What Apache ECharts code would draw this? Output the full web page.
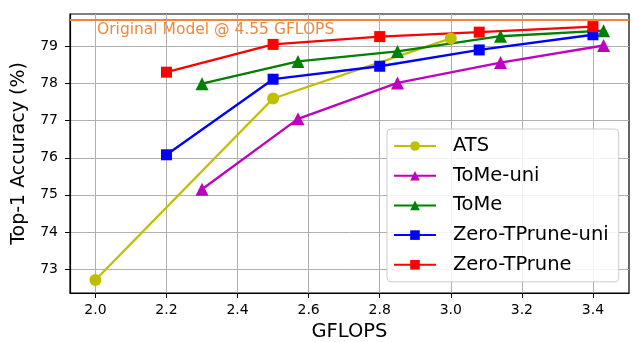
<!DOCTYPE html>
<html>
<head>
<meta charset="utf-8">
<script src="https://cdn.jsdelivr.net/npm/echarts@6/dist/echarts.min.js"></script>
<style>
  html, body { margin: 0; padding: 0; background: #fff; }
  #chart { width: 633px; height: 342px; }
</style>
</head>
<body>
<div id="chart"></div>
<script>
// 数据
const xTicks = [2.0, 2.2, 2.4, 2.6, 2.8, 3.0, 3.2, 3.4]
const yTicks = [73, 74, 75, 76, 77, 78, 79]

const atsX = [2.0, 2.5, 3.0]
const atsY = [72.7, 77.6, 79.22]

const tomeUniX = [2.3, 2.57, 2.85, 3.14, 3.43]
const tomeUniY = [75.15, 77.05, 78.02, 78.57, 79.03]

const tomeX = [2.3, 2.57, 2.85, 3.14, 3.43]
const tomeY = [78.0, 78.6, 78.87, 79.28, 79.43]

const zeroUniX = [2.2, 2.5, 2.8, 3.08, 3.4]
const zeroUniY = [76.08, 78.12, 78.47, 78.91, 79.32]

const zeroX = [2.2, 2.5, 2.8, 3.08, 3.4]
const zeroY = [78.31, 79.06, 79.27, 79.39, 79.54]

const originalAcc = 79.72
const originalLabel = 'Original Model @ 4.55 GFLOPS'

const font = 'DejaVu Sans'
const toPairs = (xs, ys) => xs.map((x, i) => [x, ys[i]])

const makeSeries = (name, xs, ys, color, symbol, size) => ({
  name,
  type: 'line',
  data: toPairs(xs, ys),
  symbol,
  symbolSize: size,
  showAllSymbol: true,
  lineStyle: { color, width: 2.3 },
  itemStyle: { color },
  emphasis: { disabled: true },
  animation: false
})

const chart = echarts.init(document.getElementById('chart'), null, { renderer: 'canvas' })

const option = {
  animation: false,
  grid: {
    left: 70, right: 4, top: 14, bottom: 49,
    outerBoundsMode: 'none',
    show: true, borderColor: '#000', borderWidth: 1.2, backgroundColor: 'transparent'
  },
  xAxis: {
    type: 'value',
    min: 1.9285, max: 3.5015,
    name: 'GFLOPS', nameLocation: 'middle', nameGap: 29,
    nameTextStyle: { fontFamily: font, fontSize: 19.5, color: '#000' },
    axisLine: { show: true, onZero: false, lineStyle: { color: '#000', width: 1.2 } },
    axisTick: { show: true, customValues: xTicks, length: 5, lineStyle: { color: '#000' } },
    axisLabel: {
      customValues: xTicks, fontFamily: font, fontSize: 14, color: '#000', margin: 10,
      formatter: v => v.toFixed(1)
    },
    splitLine: { show: true, lineStyle: { color: '#b0b0b0', width: 1 } }
  },
  yAxis: {
    type: 'value',
    min: 72.35, max: 79.88,
    name: 'Top-1 Accuracy (%)', nameLocation: 'middle', nameGap: 41,
    nameTextStyle: { fontFamily: font, fontSize: 19, color: '#000' },
    axisLine: { show: true, onZero: false, lineStyle: { color: '#000', width: 1.2 } },
    axisTick: { show: true, customValues: yTicks, length: 5, lineStyle: { color: '#000' } },
    axisLabel: { customValues: yTicks, fontFamily: font, fontSize: 14, color: '#000', margin: 12 },
    splitLine: { show: true, lineStyle: { color: '#b0b0b0', width: 1 } }
  },
  legend: {
    orient: 'vertical',
    left: 387, top: 129,
    padding: [6, 10, 6, 6],
    itemWidth: 42, itemHeight: 12, itemGap: 7.7,
    backgroundColor: 'rgba(255,255,255,0.85)',
    borderColor: '#cccccc', borderWidth: 1, borderRadius: 4,
    textStyle: { fontFamily: font, fontSize: 19.5, color: '#000', lineHeight: 22, padding: [0, 0, 0, 12] },
    data: ['ATS', 'ToMe-uni', 'ToMe', 'Zero-TPrune-uni', 'Zero-TPrune']
  },
  graphic: [{
    type: 'text',
    left: 97, top: 22,
    style: { text: originalLabel, fontFamily: font, fontSize: 15.5, fill: '#f0883c' }
  }],
  series: [
    makeSeries('ATS', atsX, atsY, '#bfbf00', 'circle', 12),
    makeSeries('ToMe-uni', tomeUniX, tomeUniY, '#bf00bf', 'triangle', 13),
    makeSeries('ToMe', tomeX, tomeY, '#008000', 'triangle', 13),
    makeSeries('Zero-TPrune-uni', zeroUniX, zeroUniY, '#0000ff', 'rect', 11),
    Object.assign(makeSeries('Zero-TPrune', zeroX, zeroY, '#ff0000', 'rect', 11), {
      markLine: {
        silent: true, symbol: 'none', animation: false,
        lineStyle: { color: '#f0843c', width: 2, type: 'solid' },
        label: { show: false },
        data: [{ yAxis: originalAcc }]
      }
    })
  ]
}

chart.setOption(option)
</script>
</body>
</html>
